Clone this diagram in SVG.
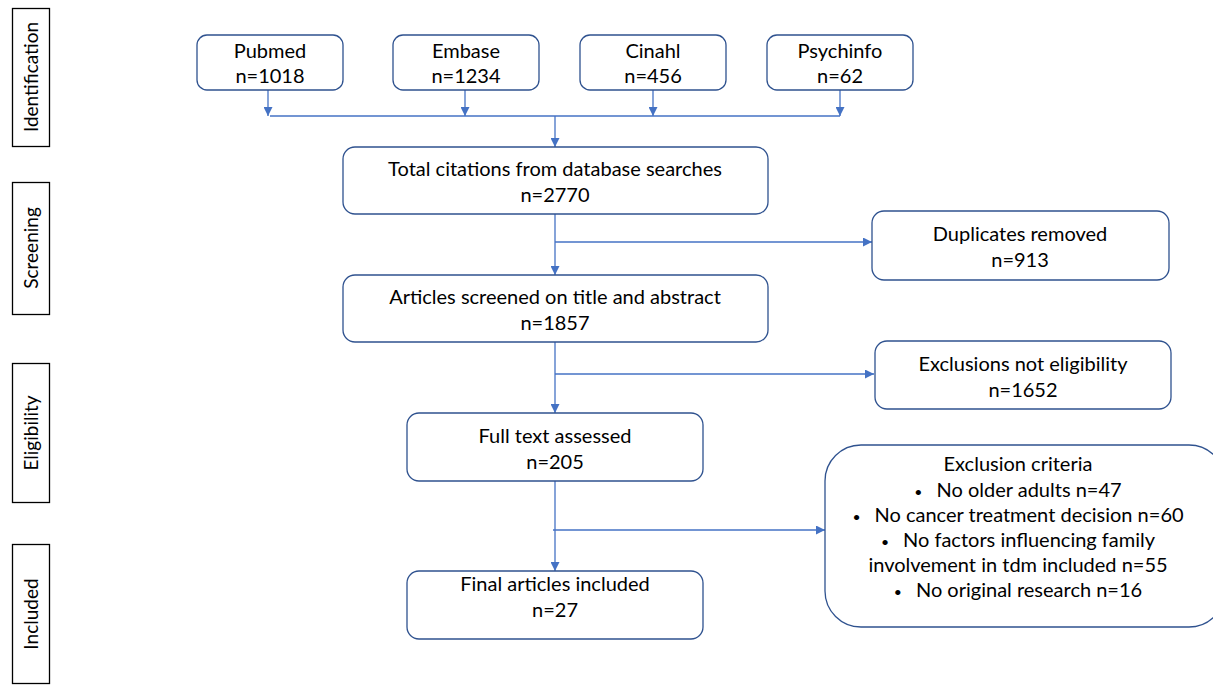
<svg xmlns="http://www.w3.org/2000/svg" width="1213" height="691" viewBox="0 0 1213 691">
<defs>
<marker id="ah" viewBox="0 0 10 10" refX="10" refY="5" markerWidth="9" markerHeight="9" markerUnits="userSpaceOnUse" orient="auto">
<path d="M0,0 L10,5 L0,10 z" fill="#4472C4"/>
</marker>
</defs>
<style>
.box{fill:#fff;stroke:#2F528F;stroke-width:1.3}
.side{fill:#fff;stroke:#000;stroke-width:1.3}
.t{font-family:Lato,"Liberation Sans",sans-serif;font-size:20px;fill:#000;text-anchor:middle}
.s{font-family:Lato,"Liberation Sans",sans-serif;font-size:19px;fill:#000;text-anchor:middle}
.b{font-size:14px}
.c{fill:none;stroke:#4472C4;stroke-width:1.3}
</style>
<rect width="1213" height="691" fill="#fff"/>
<g id="side-identification"><rect class="side" x="12.5" y="8.5" width="37" height="138"/><text class="s" transform="translate(38,77) rotate(-90)">Identification</text></g>
<g id="side-screening"><rect class="side" x="12.5" y="182.5" width="37" height="132"/><text class="s" transform="translate(38,248) rotate(-90)">Screening</text></g>
<g id="side-eligibility"><rect class="side" x="12.5" y="363.5" width="37" height="139"/><text class="s" transform="translate(38,433) rotate(-90)">Eligibility</text></g>
<g id="side-included"><rect class="side" x="12.5" y="544.5" width="37" height="139"/><text class="s" transform="translate(38,614) rotate(-90)">Included</text></g>

<g id="connectors">
<line class="c" x1="268" y1="90" x2="268" y2="116" marker-end="url(#ah)"/>
<line class="c" x1="465" y1="90" x2="465" y2="116" marker-end="url(#ah)"/>
<line class="c" x1="653" y1="90" x2="653" y2="116" marker-end="url(#ah)"/>
<line class="c" x1="840" y1="90" x2="840" y2="116" marker-end="url(#ah)"/>
<line class="c" x1="270" y1="116" x2="840" y2="116"/>
<line class="c" x1="555" y1="116" x2="555" y2="147" marker-end="url(#ah)"/>
<line class="c" x1="555" y1="214" x2="555" y2="275" marker-end="url(#ah)"/>
<line class="c" x1="555" y1="242" x2="872" y2="242" marker-end="url(#ah)"/>
<line class="c" x1="555" y1="342" x2="555" y2="413" marker-end="url(#ah)"/>
<line class="c" x1="555" y1="374" x2="874" y2="374" marker-end="url(#ah)"/>
<line class="c" x1="555" y1="481" x2="555" y2="571" marker-end="url(#ah)"/>
<line class="c" x1="553" y1="530" x2="825" y2="530" marker-end="url(#ah)"/>
</g>

<g id="pubmed"><rect class="box" x="197" y="35" width="146" height="55" rx="10"/><text class="t" x="270" y="58">Pubmed</text><text class="t" x="270" y="83">n=1018</text></g>
<g id="embase"><rect class="box" x="393" y="35" width="146" height="55" rx="10"/><text class="t" x="466" y="58">Embase</text><text class="t" x="466" y="83">n=1234</text></g>
<g id="cinahl"><rect class="box" x="580" y="35" width="146" height="55" rx="10"/><text class="t" x="653" y="58">Cinahl</text><text class="t" x="653" y="83">n=456</text></g>
<g id="psychinfo"><rect class="box" x="767" y="35" width="146" height="55" rx="10"/><text class="t" x="840" y="58">Psychinfo</text><text class="t" x="840" y="83">n=62</text></g>

<g id="total"><rect class="box" x="343" y="147" width="425" height="67" rx="12"/><text class="t" x="555" y="176">Total citations from database searches</text><text class="t" x="555" y="202">n=2770</text></g>
<g id="duplicates"><rect class="box" x="872" y="211" width="297" height="69" rx="12"/><text class="t" x="1020" y="241">Duplicates removed</text><text class="t" x="1020" y="267">n=913</text></g>
<g id="screened"><rect class="box" x="343" y="275" width="425" height="67" rx="12"/><text class="t" x="555" y="304">Articles screened on title and abstract</text><text class="t" x="555" y="330">n=1857</text></g>
<g id="exclusions"><rect class="box" x="875" y="341" width="296" height="68" rx="12"/><text class="t" x="1023" y="371">Exclusions not eligibility</text><text class="t" x="1023" y="397">n=1652</text></g>
<g id="fulltext"><rect class="box" x="407" y="413" width="296" height="68" rx="12"/><text class="t" x="555" y="443">Full text assessed</text><text class="t" x="555" y="469">n=205</text></g>
<g id="final"><rect class="box" x="407" y="571" width="296" height="68" rx="12"/><text class="t" x="555" y="591">Final articles included</text><text class="t" x="555" y="617">n=27</text></g>
<g id="criteria"><rect class="box" x="825" y="445" width="400" height="182" rx="36"/>
<text class="t" x="1018" y="471">Exclusion criteria</text>
<text class="t" x="1018" y="497"><tspan class="b">•</tspan><tspan dx="14">No older adults n=47</tspan></text>
<text class="t" x="1018" y="522"><tspan class="b">•</tspan><tspan dx="14">No cancer treatment decision n=60</tspan></text>
<text class="t" x="1018" y="547"><tspan class="b">•</tspan><tspan dx="14">No factors influencing family</tspan></text>
<text class="t" x="1018" y="572">involvement in tdm included n=55</text>
<text class="t" x="1018" y="597"><tspan class="b">•</tspan><tspan dx="14">No original research n=16</tspan></text>
</g>
</svg>
